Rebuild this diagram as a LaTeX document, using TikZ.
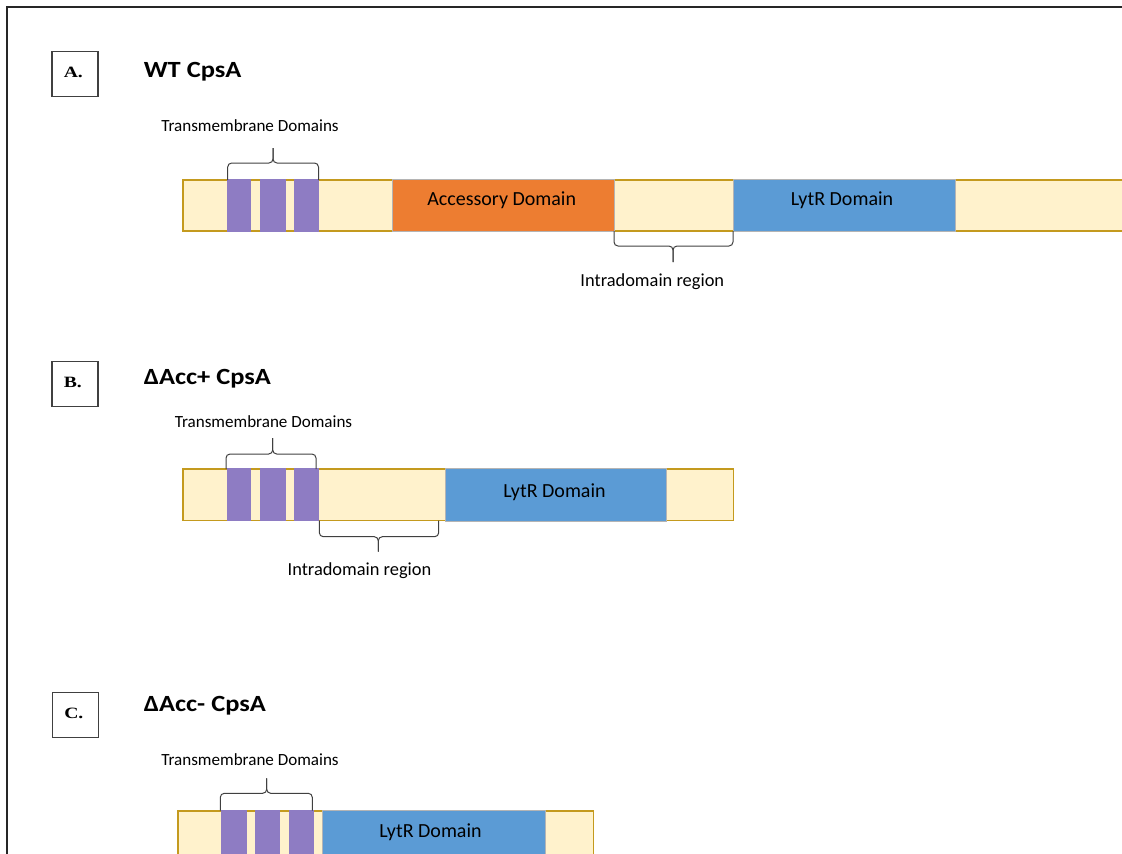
\documentclass[tikz,border=0pt]{standalone}
\usepackage{fontspec}
\usepackage{graphicx}
\setmainfont{Carlito}
\newfontfamily\panelfont{Liberation Serif}
\definecolor{barfill}{HTML}{FFF2CC}
\definecolor{barline}{HTML}{C49A1E}
\definecolor{tmcol}{HTML}{8E7CC3}
\definecolor{acccol}{HTML}{ED7D31}
\definecolor{lytcol}{HTML}{5B9BD5}
\definecolor{segline}{HTML}{B4B4B4}
\definecolor{braceline}{HTML}{404040}
\tikzset{
  framebox/.style={draw=black!75, line width=0.8pt, fill=white, minimum width=34.5pt, minimum height=33.5pt, inner sep=0pt},
  paneltag/.style={anchor=base west, inner sep=0pt, font=\panelfont\bfseries\fontsize{11.8pt}{13pt}\selectfont},
  title/.style={anchor=base west, inner sep=0pt, font=\bfseries\fontsize{17.4pt}{20pt}\selectfont},
  tmlab/.style={anchor=base, inner sep=0pt, font=\fontsize{12.8pt}{15pt}\selectfont},
  domlab/.style={anchor=base, inner sep=0pt, font=\fontsize{15pt}{18pt}\selectfont},
  intralab/.style={anchor=base, inner sep=0pt, font=\fontsize{13.8pt}{16pt}\selectfont},
  barbody/.style={fill=barfill, draw=barline, line width=1.2pt},
  tmseg/.style={fill=tmcol},
  domseg/.style={draw=segline, line width=0.4pt},
  brace/.style={draw=braceline, line width=0.75pt, rounded corners=3pt},
}
\newcommand{\wide}[2]{\scalebox{#1}[1]{#2}}
\begin{document}
\begin{tikzpicture}[x=0.75pt, y=-0.75pt]
\useasboundingbox (0,0) rectangle (1122,854);

% outer frame (open to the right and bottom)
\draw[black!85, line width=1.3pt] (7,870) -- (7,7) -- (1140,7);

% ---------------- A: wild type ----------------
\node[framebox] (boxA) at (75,74) {};
\node[paneltag] (tagA) at (63.5,77) {\wide{1.25}{A.}};
\node[title] (titleA) at (143.5,77) {\wide{1.14}{WT CpsA}};

\draw[barbody] (183,180) rectangle (1140,231);
\fill[tmseg] (226.7,179.2) rectangle (251.3,231.8);
\fill[tmseg] (260.3,179.2) rectangle (285.7,231.8);
\fill[tmseg] (294.3,179.2) rectangle (319.3,231.8);
\filldraw[domseg, fill=acccol] (392.5,179.5) rectangle (614,231.5);
\filldraw[domseg, fill=lytcol] (733,179.5) rectangle (955,231.5);
\node[domlab] (accA) at (501.7,205) {Accessory Domain};
\node[domlab] (lytA) at (842,205) {LytR Domain};

\node[tmlab] (tmA) at (250,131) {Transmembrane Domains};
\coordinate (tmAl) at (227.7,180); \coordinate (tmAr) at (318.5,180);
\coordinate (tmAm) at (273,163);
\draw[brace] (tmAl) -- (tmAl |- tmAm) -- (tmAm) -- (273,148);
\draw[brace] (tmAr) -- (tmAr |- tmAm) -- (tmAm) -- (273,148);

\coordinate (inAl) at (614,231); \coordinate (inAr) at (733,231);
\coordinate (inAm) at (673,246);
\draw[brace] (inAl) -- (inAl |- inAm) -- (inAm) -- (673,262);
\draw[brace] (inAr) -- (inAr |- inAm) -- (inAm) -- (673,262);
\node[intralab] (inA) at (652.3,286) {Intradomain region};

% ---------------- B: accessory domain deleted (+) ----------------
\node[framebox] (boxB) at (75,384) {};
\node[paneltag] (tagB) at (63.5,387.5) {\wide{1.25}{B.}};
\node[title] (titleB) at (143.5,384) {\wide{1.14}{ΔAcc+ CpsA}};

\draw[barbody] (183,469) rectangle (733.5,520.5);
\fill[tmseg] (226.7,468.2) rectangle (251.3,521.3);
\fill[tmseg] (260.3,468.2) rectangle (285.7,521.3);
\fill[tmseg] (294.3,468.2) rectangle (319.3,521.3);
\filldraw[domseg, fill=lytcol] (445.3,468.5) rectangle (666.5,521);
\node[domlab] (lytB) at (554.5,497.3) {LytR Domain};

\node[tmlab] (tmB) at (263.5,427) {Transmembrane Domains};
\coordinate (tmBl) at (226,469); \coordinate (tmBr) at (316,469);
\coordinate (tmBm) at (272.7,454);
\draw[brace] (tmBl) -- (tmBl |- tmBm) -- (tmBm) -- (272.7,438);
\draw[brace] (tmBr) -- (tmBr |- tmBm) -- (tmBm) -- (272.7,438);

\coordinate (inBl) at (319.3,520.5); \coordinate (inBr) at (438.7,520.5);
\coordinate (inBm) at (378.3,536.7);
\draw[brace] (inBl) -- (inBl |- inBm) -- (inBm) -- (378.3,551.7);
\draw[brace] (inBr) -- (inBr |- inBm) -- (inBm) -- (378.3,551.7);
\node[intralab] (inB) at (359.5,575) {Intradomain region};

% ---------------- C: accessory domain deleted (-) ----------------
\node[framebox] (boxC) at (75.3,715) {};
\node[paneltag] (tagC) at (64,718) {\wide{1.25}{C.}};
\node[title] (titleC) at (143.5,711) {\wide{1.14}{ΔAcc- CpsA}};

\draw[barbody] (177.7,810.7) rectangle (593.3,880);
\fill[tmseg] (221.3,810) rectangle (246.7,880);
\fill[tmseg] (255.3,810) rectangle (280.3,880);
\fill[tmseg] (289.3,810) rectangle (314.3,880);
\filldraw[domseg, fill=lytcol] (322.7,810.2) rectangle (545,880);
\node[domlab] (lytC) at (430.5,837.3) {LytR Domain};

\node[tmlab] (tmC) at (250,765) {Transmembrane Domains};
\coordinate (tmCl) at (220.3,810.7); \coordinate (tmCr) at (312.3,810.7);
\coordinate (tmCm) at (266.7,793.3);
\draw[brace] (tmCl) -- (tmCl |- tmCm) -- (tmCm) -- (266.7,778.3);
\draw[brace] (tmCr) -- (tmCr |- tmCm) -- (tmCm) -- (266.7,778.3);
\end{tikzpicture}
\end{document}
